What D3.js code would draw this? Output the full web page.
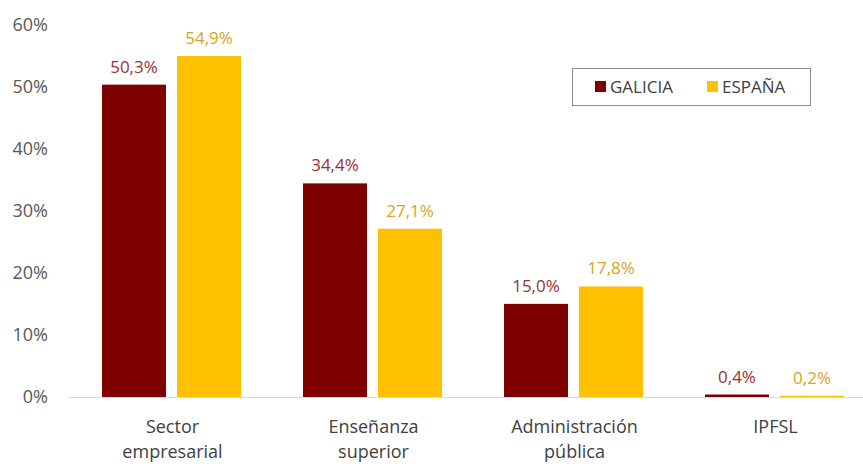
<!DOCTYPE html>
<html>
<head>
<meta charset="utf-8">
<script src="https://cdn.jsdelivr.net/npm/d3@7/dist/d3.min.js"></script>
<style>
  body { margin: 0; background: #fff; }
  svg { display: block; font-family: "Open Sans", sans-serif; }
</style>
</head>
<body>
<div id="chart"></div>
<script>
const categories = [["Sector", "empresarial"], ["Enseñanza", "superior"], ["Administración", "pública"], ["IPFSL"]];
const seriesNames = ["GALICIA", "ESPAÑA"];
const galicia = [50.3, 34.4, 15.0, 0.4];
const espana = [54.9, 27.1, 17.8, 0.2];
const yTicks = [0, 10, 20, 30, 40, 50, 60];

const barColors = ["#7f0000", "#ffc000"];
const labelColors = ["#9a3030", "#d9a322"];

const W = 863, H = 464;
const svg = d3.select("#chart").append("svg")
  .attr("width", W)
  .attr("height", H);

const x0 = d3.scaleBand()
  .domain(d3.range(categories.length))
  .range([70, 874])
  .paddingInner(0)
  .paddingOuter(0);

const groupW = 139;
const x1 = d3.scaleBand()
  .domain(d3.range(seriesNames.length))
  .range([0, groupW])
  .paddingInner(0.147);

const y = d3.scaleLinear()
  .domain([0, 60])
  .range([397, 24.4]);

const data = categories.map((c, i) => ({ i, values: [galicia[i], espana[i]] }));

// y axis labels (no line, no ticks)
svg.append("g")
  .selectAll("text")
  .data(yTicks)
  .enter()
  .append("text")
  .attr("x", 48)
  .attr("y", d => y(d))
  .attr("dy", "0.35em")
  .attr("text-anchor", "end")
  .style("font-size", "18px")
  .style("fill", "#595959")
  .text(d => d + "%");

// baseline
svg.append("line")
  .attr("x1", 68)
  .attr("x2", W)
  .attr("y1", y(0) + 0.5)
  .attr("y2", y(0) + 0.5)
  .attr("stroke", "#d9d9d9")
  .attr("stroke-width", 1.2);

const groups = svg.selectAll(".grp")
  .data(data)
  .enter()
  .append("g")
  .attr("class", "grp")
  .attr("transform", d => `translate(${x0(d.i) + 32},0)`);

groups.selectAll("rect")
  .data(d => d.values)
  .enter()
  .append("rect")
  .attr("x", (v, j) => x1(j))
  .attr("width", x1.bandwidth())
  .attr("y", v => y(v))
  .attr("height", v => y(0) - y(v))
  .attr("fill", (v, j) => barColors[j]);

groups.selectAll(".val")
  .data(d => d.values)
  .enter()
  .append("text")
  .attr("class", "val")
  .attr("x", (v, j) => x1(j) + x1.bandwidth() / 2)
  .attr("y", v => y(v) - 12)
  .attr("text-anchor", "middle")
  .style("font-size", "17px")
  .style("fill", (v, j) => labelColors[j])
  .text(v => d3.format(".1f")(v).replace(".", ",") + "%");

// category labels
const catText = svg.append("g")
  .selectAll("text")
  .data(categories)
  .enter()
  .append("text")
  .attr("x", (d, i) => x0(i) + x0.bandwidth() / 2 + 2)
  .attr("y", 433)
  .attr("text-anchor", "middle")
  .style("font-size", "18px")
  .style("fill", "#404040");

catText.selectAll("tspan")
  .data(d => d)
  .enter()
  .append("tspan")
  .attr("x", function () { return d3.select(this.parentNode).attr("x"); })
  .attr("dy", (d, k) => k === 0 ? 0 : 25)
  .text(d => d);

// legend
const legend = svg.append("g").attr("transform", "translate(572,68)");
legend.append("rect")
  .attr("x", 0.5)
  .attr("y", 0.5)
  .attr("width", 238)
  .attr("height", 37)
  .attr("fill", "#fff")
  .attr("stroke", "#8c8c8c")
  .attr("stroke-width", 1);

const legX = [23, 135];
const items = legend.selectAll(".li")
  .data(seriesNames)
  .enter()
  .append("g")
  .attr("class", "li")
  .attr("transform", (d, i) => `translate(${legX[i]},0)`);

items.append("rect")
  .attr("x", 0)
  .attr("y", 13)
  .attr("width", 11)
  .attr("height", 11)
  .attr("fill", (d, i) => barColors[i]);

items.append("text")
  .attr("x", 15)
  .attr("y", 19)
  .attr("dy", "0.35em")
  .style("font-size", "17px")
  .style("fill", "#404040")
  .text(d => d);
</script>
</body>
</html>
